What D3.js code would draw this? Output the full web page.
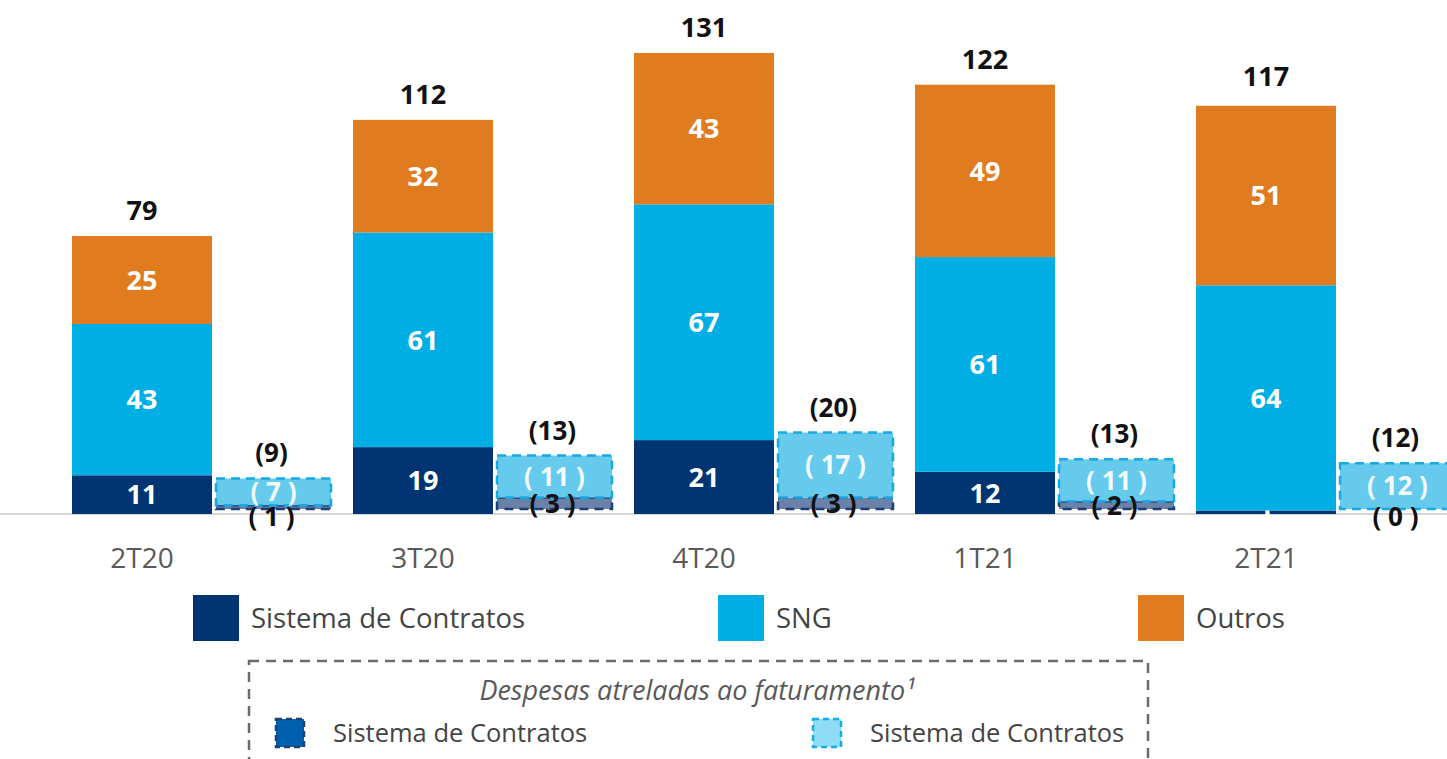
<!DOCTYPE html>
<html>
<head>
<meta charset="utf-8">
<script src="https://cdn.jsdelivr.net/npm/d3@7"></script>
<style>
  body { margin: 0; background: #fff; }
  svg { display: block; font-family: "Open Sans", sans-serif; }
</style>
</head>
<body>
<div id="chart"></div>
<script>
// quarters
const quarters = ["2T20", "3T20", "4T20", "1T21", "2T21"];

// main stacked bar
const sistemaContratos = [11, 19, 21, 12, 1];
const sng = [43, 61, 67, 61, 64];
const outros = [25, 32, 43, 49, 51];
const totals = [79, 112, 131, 122, 117];

// billing-linked expenses (shown as negatives in parentheses)
const despSistema = [1, 3, 3, 2, 0];
const despSng = [7, 11, 17, 11, 12];
const despTotals = [9, 13, 20, 13, 12];

const W = 1447, H = 759;
const C = { navy: "#003473", sng: "#00aee6", outros: "#e07b20",
            dNavyFill: "#6a81aa", dNavyStroke: "#1d3f78",
            dSngFill: "#66caed", dSngStroke: "#17a9e2" };

const svg = d3.select("#chart").append("svg").attr("width", W).attr("height", H);

const x = d3.scaleBand().domain(quarters).range([72, 72 + 281 * 5]).paddingInner(0).paddingOuter(0);
const y = d3.scaleLinear().domain([0, 131]).range([514, 53]);
const mainW = 140, subOff = 144, subW = 115;

// baseline
svg.append("line").attr("x1", 0).attr("x2", W).attr("y1", y(0)).attr("y2", y(0))
  .attr("stroke", "#c9c9c9").attr("stroke-width", 1.5);

const keys = ["sc", "sng", "outros"];
const rows = quarters.map((q, i) => ({ q, sc: sistemaContratos[i], sng: sng[i], outros: outros[i] }));
const stack = d3.stack().keys(keys)(rows);
const colors = { sc: C.navy, sng: C.sng, outros: C.outros };

stack.forEach(layer => {
  const g = svg.append("g");
  g.selectAll("rect").data(layer).enter().append("rect")
    .attr("x", d => x(d.data.q))
    .attr("y", d => y(d[1]))
    .attr("width", mainW)
    .attr("height", d => y(d[0]) - y(d[1]))
    .attr("fill", colors[layer.key]);
  g.selectAll("text").data(layer).enter().append("text")
    .attr("x", d => x(d.data.q) + mainW / 2)
    .attr("y", d => (y(d[0]) + y(d[1])) / 2)
    .attr("dy", "0.36em")
    .attr("text-anchor", "middle")
    .attr("fill", "#fff").attr("font-weight", 700).attr("font-size", 27)
    .text(d => d.data[layer.key]);
});

// totals
svg.append("g").selectAll("text").data(quarters).enter().append("text")
  .attr("x", q => x(q) + mainW / 2)
  .attr("y", (q, i) => y(totals[i]) - 16)
  .attr("text-anchor", "middle").attr("font-weight", 700).attr("font-size", 27).attr("fill", "#111")
  .text((q, i) => totals[i]);

// secondary bars (slightly raised, dashed outlines)
const ys = v => y(v) - 5 - v * 0.3;
const sub = svg.append("g");
quarters.forEach((q, i) => {
  const x0 = x(q) + subOff;
  const a = despSistema[i], b = despSng[i];
  // dark part
  sub.append("rect").attr("x", x0).attr("y", ys(a)).attr("width", subW).attr("height", ys(0) - ys(a))
    .attr("fill", C.dNavyFill).attr("stroke", C.dNavyStroke).attr("stroke-width", 2.5)
    .attr("stroke-dasharray", "9,6");
  // light part
  sub.append("rect").attr("x", x0).attr("y", ys(a + b)).attr("width", subW).attr("height", ys(a) - ys(a + b))
    .attr("fill", C.dSngFill).attr("stroke", C.dSngStroke).attr("stroke-width", 2.5)
    .attr("stroke-dasharray", "9,6");
  sub.append("text").attr("x", x0 + subW / 2).attr("y", (ys(a) + ys(a + b)) / 2).attr("dy", "0.36em")
    .attr("text-anchor", "middle").attr("fill", "#fff").attr("font-weight", 700).attr("font-size", 26)
    .attr("opacity", 0.92).attr("xml:space", "preserve")
    .text("( " + b + " )");
  const h = ys(0) - ys(a);
  const cy = h < 6 ? ys(0) + 8 : (ys(0) + ys(a)) / 2;
  sub.append("text").attr("x", x0 + subW / 2 - 2).attr("y", cy).attr("dy", "0.36em")
    .attr("text-anchor", "middle").attr("fill", "#111").attr("font-weight", 700).attr("font-size", 26)
    .attr("xml:space", "preserve")
    .text("( " + a + " )");
  sub.append("text").attr("x", x0 + subW / 2 - 2).attr("y", ys(a + b) - 16)
    .attr("text-anchor", "middle").attr("fill", "#111").attr("font-weight", 700).attr("font-size", 26)
    .text("(" + despTotals[i] + ")");
});

// x axis labels
svg.append("g").selectAll("text").data(quarters).enter().append("text")
  .attr("x", q => x(q) + mainW / 2)
  .attr("y", 568)
  .attr("text-anchor", "middle").attr("font-size", 28).attr("fill", "#595959")
  .text(q => q);

// legend
const legend = [
  { label: "Sistema de Contratos", color: C.navy, x: 193 },
  { label: "SNG", color: C.sng, x: 718 },
  { label: "Outros", color: C.outros, x: 1138 }
];
const lg = svg.append("g");
legend.forEach(l => {
  lg.append("rect").attr("x", l.x).attr("y", 595).attr("width", 46).attr("height", 46).attr("fill", l.color);
  lg.append("text").attr("x", l.x + 58).attr("y", 618).attr("dy", "0.36em")
    .attr("font-size", 27.5).attr("fill", "#444").text(l.label);
});

// dashed legend box
svg.append("rect").attr("x", 249).attr("y", 661).attr("width", 899).attr("height", 140)
  .attr("fill", "none").attr("stroke", "#6b6b6b").attr("stroke-width", 2.5).attr("stroke-dasharray", "10,7");
svg.append("text").attr("x", 697).attr("y", 700).attr("text-anchor", "middle")
  .attr("font-size", 27).attr("font-style", "italic").attr("fill", "#595959")
  .text("Despesas atreladas ao faturamento¹");

const legend2 = [
  { label: "Sistema de Contratos", fill: "#0060b0", stroke: "#1e3f70", x: 276 },
  { label: "Sistema de Contratos", fill: "#8fdcf7", stroke: "#12aee6", x: 813 }
];
legend2.forEach(l => {
  svg.append("rect").attr("x", l.x).attr("y", 719).attr("width", 28).attr("height", 28)
    .attr("fill", l.fill).attr("stroke", l.stroke).attr("stroke-width", 2.5).attr("stroke-dasharray", "6,4");
  svg.append("text").attr("x", l.x + 57).attr("y", 733).attr("dy", "0.36em")
    .attr("font-size", 25.5).attr("fill", "#444").text(l.label);
});
</script>
</body>
</html>
